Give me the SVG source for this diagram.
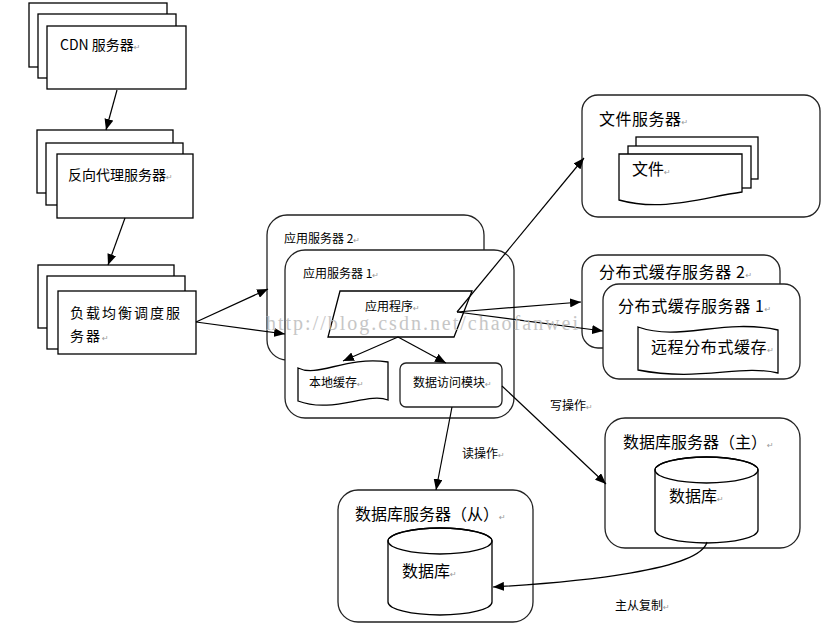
<svg xmlns="http://www.w3.org/2000/svg" width="825" height="627" viewBox="0 0 825 627">
<defs>
<style>
.box{fill:#fff;stroke:#000;stroke-width:1.3}
.rbox{fill:#fff;stroke:#222;stroke-width:1.3}
.edge{stroke:#000;stroke-width:1.2;fill:none;marker-end:url(#ah)}
.t{font-family:"Noto Sans CJK SC","Liberation Sans",sans-serif;fill:#000}
.s12{font-size:12px}
.s14{font-size:14px}
.s16{font-size:16px}
.pm{font-family:"DejaVu Sans",sans-serif;font-size:8px;fill:#999}
.wm{font-family:"Liberation Serif",serif;font-size:20px;fill:#bdbdbd;opacity:0.85}
</style>
<marker id="ah" markerWidth="11" markerHeight="9" refX="11" refY="4.5" orient="auto" markerUnits="userSpaceOnUse">
<path d="M0,0 L11,4.5 L0,9 z" fill="#000"/>
</marker>
</defs>
<rect width="825" height="627" fill="#fff"/>

<g id="cdn">
<rect class="box" x="29" y="3" width="138" height="64"/>
<rect class="box" x="38" y="14" width="138" height="64"/>
<rect class="box" x="47" y="26" width="139" height="63"/>
<text class="t s14" x="60" y="50">CDN 服务器<tspan class="pm">↵</tspan></text>
</g>

<g id="proxy">
<rect class="box" x="37" y="130" width="136" height="63"/>
<rect class="box" x="46" y="143" width="137" height="62"/>
<rect class="box" x="57" y="154" width="136" height="64"/>
<text class="t s14" x="68" y="180">反向代理服务器<tspan class="pm">↵</tspan></text>
</g>

<g id="lb">
<rect class="box" x="38" y="265" width="136" height="63"/>
<rect class="box" x="47" y="276" width="138" height="73"/>
<rect class="box" x="58" y="291" width="138" height="63"/>
<text class="t s14" x="70" y="318" letter-spacing="2">负载均衡调度服</text>
<text class="t s14" x="70" y="341" letter-spacing="2">务器<tspan class="pm" letter-spacing="0">↵</tspan></text>
</g>

<g id="app2">
<rect class="rbox" x="267" y="215" width="217" height="145" rx="20"/>
<text class="t s12" x="284" y="243">应用服务器 2<tspan class="pm">↵</tspan></text>
</g>

<g id="app1">
<rect class="rbox" x="285" y="250" width="229" height="168" rx="20"/>
<text class="t s12" x="303" y="278">应用服务器 1<tspan class="pm">↵</tspan></text>
</g>

<g id="program">
<polygon class="box" points="340,291 472,291 454,337 328,337"/>
<text class="t s12" x="365" y="311">应用程序<tspan class="pm">↵</tspan></text>
</g>

<g id="localcache">
<path class="box" d="M298,368 C318,378 345,356 388,362 L388,400 C368,392 332,414 298,401 Z"/>
<text class="t s12" x="309" y="387">本地缓存<tspan class="pm">↵</tspan></text>
</g>

<g id="dataaccess">
<rect class="rbox" x="400" y="363" width="102" height="44" rx="6"/>
<text class="t s12" x="413" y="387">数据访问模块<tspan class="pm">↵</tspan></text>
</g>

<g id="fileserver">
<rect class="rbox" x="582" y="95" width="238" height="122" rx="16"/>
<text class="t s16" x="599" y="125" letter-spacing="0.5">文件服务器<tspan class="pm" letter-spacing="0">↵</tspan></text>
<rect class="box" x="636" y="137" width="122" height="42"/>
<rect class="box" x="628" y="146" width="123" height="42"/>
<path class="box" d="M619,154 H742 V192 C700,198 662,212 619,200 Z"/>
<text class="t s16" x="632" y="175">文件<tspan class="pm">↵</tspan></text>
</g>

<g id="cache2">
<rect class="rbox" x="582" y="255" width="198" height="93" rx="16"/>
<text class="t s16" x="599" y="278" letter-spacing="0.6">分布式缓存服务器 2<tspan class="pm" letter-spacing="0">↵</tspan></text>
</g>

<g id="cache1">
<rect class="rbox" x="603" y="284" width="197" height="95" rx="16"/>
<text class="t s16" x="618" y="312" letter-spacing="0.6">分布式缓存服务器 1<tspan class="pm" letter-spacing="0">↵</tspan></text>
<path class="box" d="M638,327 C680,342 722,318 778,330 L778,373 C740,364 700,382 638,370 Z"/>
<text class="t s16" x="651" y="353" letter-spacing="0.6">远程分布式缓存<tspan class="pm" letter-spacing="0">↵</tspan></text>
</g>

<g id="dbmaster">
<rect class="rbox" x="605" y="418" width="195" height="130" rx="20"/>
<text class="t s16" x="623" y="448">数据库服务器（主）<tspan class="pm">↵</tspan></text>
<path class="box" d="M655,470 V530 A51.5,13 0 0 0 758,530 V470 A51.5,13 0 0 0 655,470 Z"/>
<ellipse cx="706.5" cy="470" rx="51.5" ry="13" fill="none" stroke="#000" stroke-width="1.3"/>
<text class="t s16" x="669" y="502">数据库<tspan class="pm">↵</tspan></text>
</g>

<g id="dbslave">
<rect class="rbox" x="338" y="490" width="195" height="132" rx="20"/>
<text class="t s16" x="355" y="520">数据库服务器（从）<tspan class="pm">↵</tspan></text>
<path class="box" d="M388,541 V602 A52,13 0 0 0 492,602 V541 A52,13 0 0 0 388,541 Z"/>
<ellipse cx="440" cy="541" rx="52" ry="13" fill="none" stroke="#000" stroke-width="1.3"/>
<text class="t s16" x="402" y="577">数据库<tspan class="pm">↵</tspan></text>
</g>

<g id="connectors">
<line class="edge" x1="117" y1="90" x2="106" y2="130"/>
<line class="edge" x1="125" y1="218" x2="108" y2="265"/>
<line class="edge" x1="196" y1="322" x2="268" y2="289"/>
<line class="edge" x1="196" y1="322" x2="285" y2="334"/>
<line class="edge" x1="457" y1="312" x2="584" y2="158"/>
<line class="edge" x1="457" y1="312" x2="581" y2="302"/>
<line class="edge" x1="457" y1="312" x2="603" y2="331"/>
<line class="edge" x1="398" y1="337" x2="343" y2="361"/>
<line class="edge" x1="398" y1="337" x2="446" y2="363"/>
<line class="edge" x1="452" y1="407" x2="436" y2="490"/>
<line class="edge" x1="502" y1="386" x2="606" y2="484"/>
<path class="edge" d="M707,542 C700,570 580,582 493,587"/>
<text class="t s12" x="550" y="410">写操作<tspan class="pm">↵</tspan></text>
<text class="t s12" x="462" y="458">读操作<tspan class="pm">↵</tspan></text>
<text class="t s12" x="615" y="610">主从复制<tspan class="pm">↵</tspan></text>
</g>

<text class="wm" x="266" y="330" textLength="312" lengthAdjust="spacing">http://blog.csdn.net/chaofanwei</text>
</svg>
